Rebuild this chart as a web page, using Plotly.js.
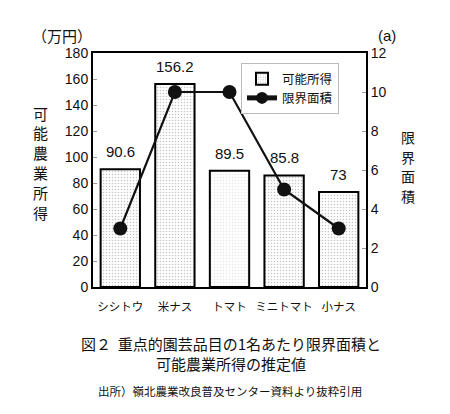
<!DOCTYPE html>
<html>
<head>
<meta charset="utf-8">
<script src="https://cdn.plot.ly/plotly-3.0.1.min.js"></script>
<style>
  body { margin: 0; background: #fff; }
  #myDiv { width: 450px; height: 414px; }
</style>
</head>
<body>
<div id="myDiv"></div>
<script>
// crops and values
var crops = ['シシトウ', '米ナス', 'トマト', 'ミニトマト', '小ナス'];
var income = [90.6, 156.2, 89.5, 85.8, 73];   // 可能所得 (万円)
var area = [3, 10, 10, 5, 3];                 // 限界面積 (a)
var incomeLabels = ['90.6', '156.2', '89.5', '85.8', '73'];
var dotColors = ['#c4c4c4', '#c4c4c4', '#e8e8e8', '#c4c4c4', '#c4c4c4'];

var jp = '"Noto Sans CJK JP", "Liberation Sans", sans-serif';
var num = '"Liberation Sans", "Noto Sans CJK JP", sans-serif';

var barTrace = {
    x: crops,
    y: income,
    name: '可能所得',
    type: 'bar',
    marker: {
        color: '#ffffff',
        line: { color: '#000', width: 2 },
        pattern: {
            shape: '.',
            fgcolor: dotColors,
            bgcolor: '#ffffff',
            size: 3,
            solidity: 0.2
        }
    },
    hoverinfo: 'skip'
};

var lineTrace = {
    x: crops,
    y: area,
    name: '限界面積',
    yaxis: 'y2',
    type: 'scatter',
    mode: 'lines+markers',
    line: { color: '#111', width: 2.2 },
    marker: { color: '#111', size: 14 },
    hoverinfo: 'skip'
};

// value labels above the bars
var annotations = [];
for (let i = 0; i < crops.length; i++) {
    annotations.push({
        x: crops[i], y: income[i], xref: 'x', yref: 'y',
        text: incomeLabels[i], showarrow: false,
        yanchor: 'bottom', yshift: 7,
        font: { family: num, size: 15, color: '#111' }
    });
}

function paperText(text, x, y, size, family) {
    return {
        text: text, x: x, y: y, xref: 'paper', yref: 'paper',
        xanchor: 'center', yanchor: 'middle', showarrow: false,
        font: { family: family, size: size, color: '#111' }
    };
}

// paper coords: plot spans x 93..366, y 53..287
function px(x) { return (x - 93) / 273; }
function py(y) { return (287 - y) / 234; }

// vertical axis titles, one character at a time
var leftTitle = '可能農業所得';
for (let i = 0; i < leftTitle.length; i++) {
    annotations.push(paperText(leftTitle[i], px(40), py(113 + i * 19.8), 15, jp));
}
var rightTitle = '限界面積';
for (let i = 0; i < rightTitle.length; i++) {
    annotations.push(paperText(rightTitle[i], px(408), py(137 + i * 19.6), 14, jp));
}
annotations.push(paperText('（万円）', px(62), py(35), 15, jp));
annotations.push(paperText('(a)', px(387), py(35), 15, num));
annotations.push(paperText('図２  重点的園芸品目の1名あたり限界面積と', px(231), py(343), 15, jp));
annotations.push(paperText('可能農業所得の推定値', px(231), py(363), 15, jp));
annotations.push(paperText('出所）嶺北農業改良普及センター資料より抜粋引用', px(230), py(391), 11.5, jp));

var layout = {
    width: 450,
    height: 414,
    margin: { l: 93, r: 84, t: 53, b: 127 },
    paper_bgcolor: '#fff',
    plot_bgcolor: '#fff',
    bargap: 0.28,
    showlegend: true,
    legend: {
        x: px(241), y: py(63), xanchor: 'left', yanchor: 'top',
        bgcolor: '#fff', bordercolor: '#bbb', borderwidth: 1,
        font: { family: jp, size: 12.5, color: '#111' },
        itemsizing: 'constant',
        tracegroupgap: 0
    },
    xaxis: {
        type: 'category',
        showline: true, linecolor: '#000', linewidth: 2, mirror: true,
        ticks: '',
        ticklabelstandoff: 8,
        tickfont: { family: jp, size: 11.5, color: '#111' },
        fixedrange: true
    },
    yaxis: {
        range: [0, 180], dtick: 20,
        showgrid: false, zeroline: false,
        showline: true, linecolor: '#000', linewidth: 2,
        ticks: 'inside', ticklen: 4, tickcolor: '#999',
        tickfont: { family: num, size: 14, color: '#111' },
        fixedrange: true
    },
    yaxis2: {
        overlaying: 'y', side: 'right',
        range: [0, 12], dtick: 2,
        showgrid: false, zeroline: false,
        showline: true, linecolor: '#000', linewidth: 2,
        ticks: 'inside', ticklen: 4, tickcolor: '#999',
        tickfont: { family: num, size: 14, color: '#111' },
        fixedrange: true
    },
    annotations: annotations
};

var config = {
    displayModeBar: false,
    responsive: false,
    staticPlot: true
};

Plotly.newPlot('myDiv', [barTrace, lineTrace], layout, config);
</script>
</body>
</html>
